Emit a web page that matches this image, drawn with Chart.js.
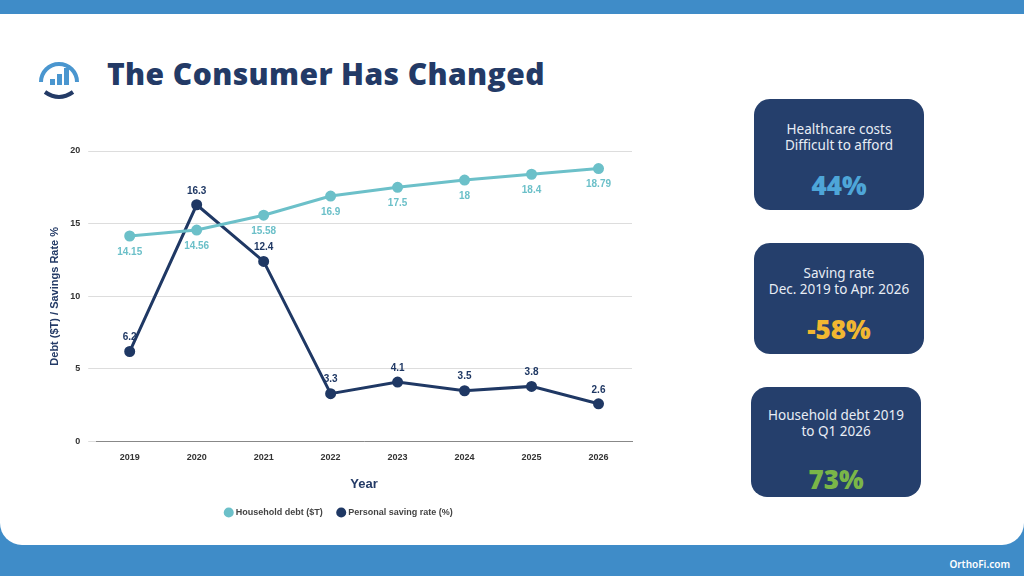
<!DOCTYPE html>
<html>
<head>
<meta charset="utf-8">
<script src="https://cdn.jsdelivr.net/npm/chart.js@4/dist/chart.umd.min.js"></script>
<style>
  html, body { margin: 0; padding: 0; width: 1024px; height: 576px; overflow: hidden; background: #3f8cc8; font-family: "Noto Sans", sans-serif; }
  .panel { position: absolute; left: 0; top: 14px; width: 1024px; height: 531px; background: #fff; border-radius: 0 0 22px 22px; }
  .title { position: absolute; left: 107px; top: 53px; font: 800 30px "Open Sans", sans-serif; color: #233a66; letter-spacing: 0.4px; }
  .chart-wrap { position: absolute; left: 47px; top: 135px; width: 593px; height: 392px; }
  .card { position: absolute; left: 754px; width: 170px; background: #253f6c; border-radius: 16px; color: #e8edf5; text-align: center; font-size: 13.5px; line-height: 16px; box-sizing: border-box; }
  .card .big { font: 800 26px "Open Sans", sans-serif; margin-top: 14px; }
  .footer { position: absolute; right: 14px; bottom: 5px; color: #fff; font: 600 10px "Noto Sans", sans-serif; }
</style>
</head>
<body>
<div class="panel"></div>
<svg style="position:absolute;left:36px;top:52px" width="46" height="50" viewBox="0 0 46 50">
  <path d="M5 30 A18 18 0 1 1 41 30" fill="none" stroke="#4a96cf" stroke-width="4"/>
  <rect x="14" y="27" width="5" height="6" fill="#4a96cf"/>
  <rect x="21" y="22" width="5" height="11" fill="#4a96cf"/>
  <rect x="28" y="16" width="5" height="17" fill="#4a96cf"/>
  <path d="M9 40 Q23 50 37 40" fill="none" stroke="#233a66" stroke-width="4"/>
</svg>
<div class="title">The Consumer Has Changed</div>
<div class="chart-wrap"><canvas id="chart"></canvas></div>
<div class="card" style="top:99px;height:111px;padding-top:22px">Healthcare costs<br>Difficult to afford<div class="big" style="color:#4ea6d8">44%</div></div>
<div class="card" style="top:243px;height:111px;padding-top:22px">Saving rate<br>Dec. 2019 to Apr. 2026<div class="big" style="color:#f2b731">-58%</div></div>
<div class="card" style="top:387px;height:110px;padding-top:20px;left:751px">Household debt 2019<br>to Q1 2026<div class="big" style="color:#7ab648;margin-top:22px">73%</div></div>
<div class="footer">OrthoFi.com</div>
<script>
const years = ['2019', '2020', '2021', '2022', '2023', '2024', '2025', '2026'];
const householdDebt = [14.15, 14.56, 15.58, 16.9, 17.5, 18, 18.4, 18.79];
const savingRate = [6.2, 16.3, 12.4, 3.3, 4.1, 3.5, 3.8, 2.6];
const yTicks = [0, 5, 10, 15, 20];

const tealColor = '#6cc0c9';
const navyColor = '#1f3864';

// draws the value next to every point, below for debt, above for savings
const pointLabels = {
    id: 'pointLabels',
    afterDatasetsDraw(chart) {
        const ctx = chart.ctx;
        ctx.save();
        ctx.textAlign = 'center';
        chart.data.datasets.forEach(function(ds, i) {
            const meta = chart.getDatasetMeta(i);
            ctx.fillStyle = ds.borderColor;
            ctx.font = 'bold 10px "Liberation Sans", Arial, sans-serif';
            meta.data.forEach(function(pt, j) {
                if (i === 0) {
                    ctx.textBaseline = 'top';
                    ctx.fillText(String(ds.data[j]), pt.x, pt.y + 11);
                } else {
                    ctx.textBaseline = 'bottom';
                    ctx.fillText(String(ds.data[j]), pt.x, pt.y - 9);
                }
            });
        });
        ctx.restore();
    }
};

new Chart(document.getElementById('chart'), {
    type: 'line',
    data: {
        labels: years,
        datasets: [
            {
                label: 'Household debt ($T)',
                data: householdDebt,
                borderColor: tealColor,
                backgroundColor: tealColor,
                borderWidth: 3,
                pointRadius: 4,
                tension: 0
            },
            {
                label: 'Personal saving rate (%)',
                data: savingRate,
                borderColor: navyColor,
                backgroundColor: navyColor,
                borderWidth: 3,
                pointRadius: 4,
                tension: 0
            }
        ]
    },
    options: {
        responsive: true,
        maintainAspectRatio: false,
        animation: false,
        layout: { padding: { top: 16, right: 8 } },
        plugins: {
            legend: {
                position: 'bottom',
                labels: {
                    usePointStyle: true,
                    pointStyle: 'circle',
                    boxWidth: 5,
                    boxHeight: 5,
                    padding: 16,
                    color: '#444',
                    font: { family: '"Liberation Sans", Arial', size: 9, weight: 'bold' }
                }
            },
            tooltip: { enabled: false }
        },
        scales: {
            x: {
                offset: true,
                grid: { display: false },
                border: { color: '#888' },
                ticks: { color: '#333', font: { family: '"Liberation Sans", Arial', size: 9, weight: 'bold' } },
                title: { display: true, text: 'Year', color: '#233a66', font: { family: '"Liberation Sans", Arial', size: 13, weight: 'bold' }, padding: { top: 10, bottom: 0 } }
            },
            y: {
                min: 0,
                max: 20,
                afterBuildTicks: function(axis) { axis.ticks = yTicks.map(v => ({ value: v })); },
                grid: { color: '#ddd' },
                border: { display: false },
                ticks: { color: '#333', padding: 8, font: { family: '"Liberation Sans", Arial', size: 9, weight: 'bold' } },
                title: { display: true, text: 'Debt ($T) / Savings Rate %', color: '#233a66', padding: 1, font: { family: '"Liberation Sans", Arial', size: 11, weight: 'bold' } }
            }
        }
    },
    plugins: [pointLabels]
});
</script>
</body>
</html>
